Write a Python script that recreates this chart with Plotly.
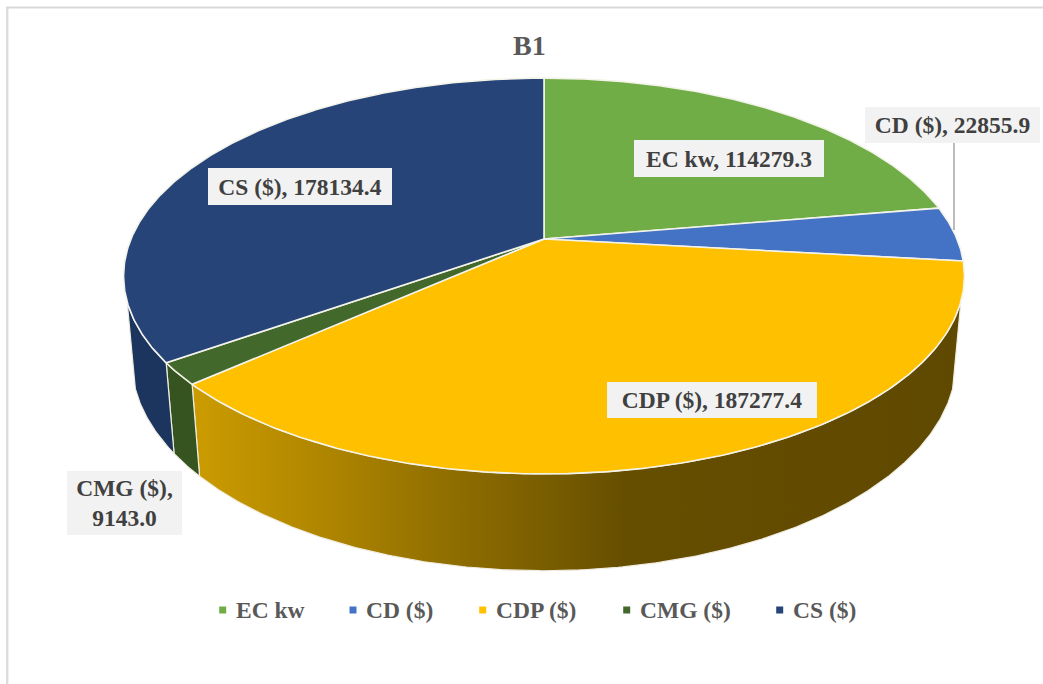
import numpy as np
import plotly.graph_objects as go

categories = ["EC kw", "CD ($)", "CDP ($)", "CMG ($)", "CS ($)"]
values = [114279.3, 22855.9, 187277.4, 9143.0, 178134.4]
face_colors = ["#70AD47", "#4472C4", "#FFC000", "#43682B", "#264478"]
wall_colors = ["#4f7a32", "#30508a", "#c79700", "#36541f", "#1c355f"]
title_text = "B1"

# projection of the tilted disc, in figure pixels
CX, CY = 544.0, 239.0
A, B, K = 413.0, 191.0, 0.187     # top-face radius x, radius y, perspective
M, N = 0.019, 85.0                # extrusion perspective, extrusion drop


def project(theta, depth):
    u, v = np.sin(theta), np.cos(theta)
    w = 1 + K * v + M * depth
    return CX + A * u / w, CY + (-B * v + N * depth) / w


def arc(a, b, depth):
    n = max(int(np.degrees(b - a)) * 2, 2)
    return project(np.linspace(a, b, n), depth)


fractions = np.array(values) / sum(values)
edges = np.concatenate([[0], np.cumsum(fractions)]) * 2 * np.pi

fig = go.Figure()

# side walls between the two silhouette angles
near_a, near_b = np.radians(108), np.radians(252)
for i, name in enumerate(categories):
    a, b = max(edges[i], near_a), min(edges[i + 1], near_b)
    if b <= a:
        continue
    xt, yt = arc(a, b, 0)
    xb, yb = arc(a, b, 1)
    x = np.concatenate([xt, xb[::-1], xt[:1]])
    y = np.concatenate([yt, yb[::-1], yt[:1]])
    kw = {}
    if name == "CDP ($)":
        kw["fillgradient"] = dict(
            type="horizontal", start=195, stop=965,
            colorscale=[[0, "#cb9b00"], [0.18, "#ad8400"], [0.36, "#8a6a00"],
                        [0.56, "#664e00"], [1, "#5f4900"]],
        )
    fig.add_trace(go.Scatter(x=x, y=y, mode="lines", fill="toself", fillcolor=wall_colors[i],
                             line=dict(color="#efece0", width=1.2), hoverinfo="skip",
                             showlegend=False, **kw))

# top faces
for i, name in enumerate(categories):
    xt, yt = arc(edges[i], edges[i + 1], 0)
    x = np.concatenate([[CX], xt, [CX]])
    y = np.concatenate([[CY], yt, [CY]])
    fig.add_trace(go.Scatter(x=x, y=y, mode="lines", fill="toself", fillcolor=face_colors[i],
                             line=dict(color="#f3f3ea", width=1.6), name=name,
                             hovertemplate=f"{name}: {values[i]:.1f}<extra></extra>",
                             showlegend=False))

# legend
legend_x = [222.7, 353, 482.7, 626.7, 779.7]
legend_y = 610
fig.add_trace(go.Scatter(x=legend_x, y=[legend_y] * 5, mode="markers",
                         marker=dict(symbol="square", size=7, color=face_colors),
                         hoverinfo="skip", showlegend=False))
font = "Liberation Serif"
annotations = []
for i, name in enumerate(categories):
    annotations.append(dict(x=legend_x[i] + 11, y=legend_y, text=f"<b>{name}</b>", showarrow=False,
                            xanchor="left", yanchor="middle",
                            font=dict(family=font, size=23.5, color="#595959")))

# data labels
label_boxes = [(729, 158, 190, 37), (952.5, 125, 175, 36), (712, 400, 210, 36),
               (124.5, 503, 115, 64), (300, 186, 184, 37)]
for i, name in enumerate(categories):
    sep = ",<br>" if name == "CMG ($)" else ", "
    bx, by, bw, bh = label_boxes[i]
    annotations.append(dict(x=bx, y=by, text=f"<b>{name}{sep}{values[i]:.1f}</b>", showarrow=False,
                            width=bw, height=bh, align="center", valign="middle",
                            bgcolor="#f2f2f2", borderpad=0, borderwidth=0,
                            font=dict(family=font, size=23.5, color="#404040")))

annotations.append(dict(x=529, y=45, text=f"<b>{title_text}</b>", showarrow=False,
                        font=dict(family=font, size=28, color="#595959")))

shapes = [
    dict(type="line", x0=954, x1=954, y0=143, y1=230, line=dict(color="#a6a6a6", width=1.5)),
    dict(type="line", x0=6, x1=1043, y0=7.5, y1=7.5, line=dict(color="#d9d9d9", width=2)),
    dict(type="line", x0=7.2, x1=7.2, y0=7, y1=684, line=dict(color="#dcdcdc", width=2.4)),
]

fig.update_layout(
    width=1043, height=684, margin=dict(l=0, r=0, t=0, b=0),
    paper_bgcolor="white", plot_bgcolor="white", showlegend=False,
    xaxis=dict(range=[0, 1043], visible=False, fixedrange=True),
    yaxis=dict(range=[684, 0], visible=False, fixedrange=True),
    annotations=annotations, shapes=shapes,
)
fig.write_html("out.html", config={"displayModeBar": False},
               post_script="document.body.style.margin='0';document.body.style.overflow='hidden';")
